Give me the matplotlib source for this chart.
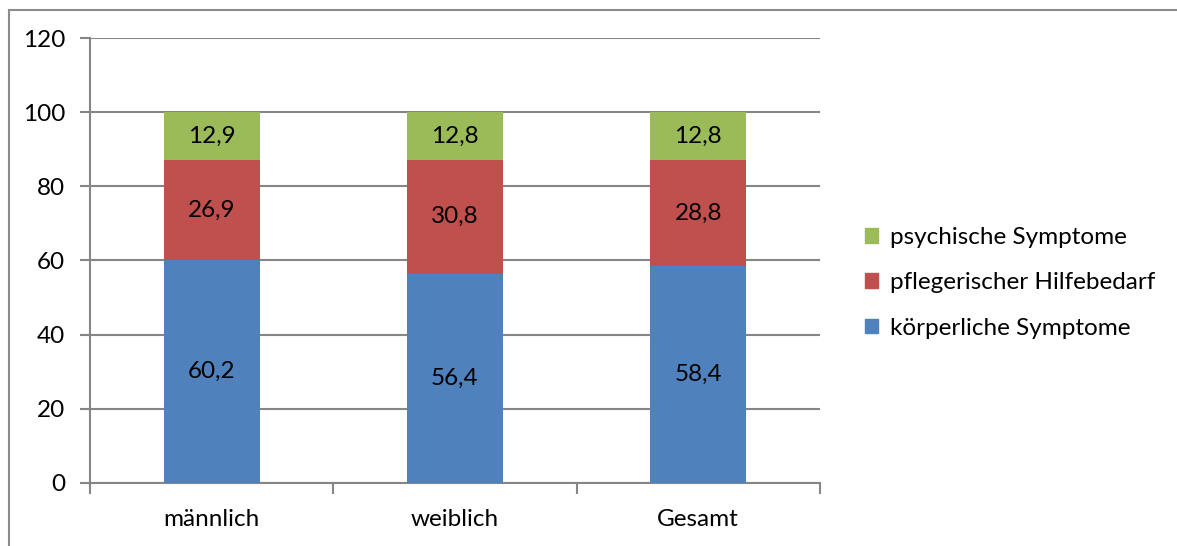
import numpy as np
import matplotlib.pyplot as plt
from matplotlib.patches import Patch
from matplotlib.lines import Line2D

plt.rcParams['font.family'] = ['Lato', 'DejaVu Sans']

groups = ['männlich', 'weiblich', 'Gesamt']
koerperlich = [60.2, 56.4, 58.4]
pflege = [26.9, 30.8, 28.8]
psychisch = [12.9, 12.8, 12.8]
y_ticks = [0, 20, 40, 60, 80, 100, 120]

c_blue = '#4F81BD'
c_red = '#C0504D'
c_green = '#9BBB59'
c_grid = '#868686'
fs = 17.5

fig = plt.figure(figsize=(11.77, 5.46), dpi=100)
ax = fig.add_axes([0.0765, 0.1154, 0.62, 0.815])

x = np.arange(len(groups))
w = 0.395
bottom2 = np.array(koerperlich)
bottom3 = bottom2 + np.array(pflege)
ax.bar(x, koerperlich, w, color=c_blue, zorder=3)
ax.bar(x, pflege, w, bottom=bottom2, color=c_red, zorder=3)
ax.bar(x, psychisch, w, bottom=bottom3, color=c_green, zorder=3)

def fmt(v):
    return f'{v:.1f}'.replace('.', ',')

for i in range(len(groups)):
    ax.text(x[i], koerperlich[i] / 2, fmt(koerperlich[i]), ha='center', va='center', fontsize=fs, zorder=4)
    ax.text(x[i], bottom2[i] + pflege[i] / 2, fmt(pflege[i]), ha='center', va='center', fontsize=fs, zorder=4)
    ax.text(x[i], bottom3[i] + psychisch[i] / 2, fmt(psychisch[i]), ha='center', va='center', fontsize=fs, zorder=4)

ax.set_xlim(-0.5, len(groups) - 0.5)
ax.set_ylim(0, 120)
ax.set_yticks(y_ticks)
ax.set_yticklabels([str(t) for t in y_ticks], fontsize=fs)
ax.yaxis.grid(True, color=c_grid, lw=1.5, zorder=0)
ax.set_xticks(x)
ax.set_xticklabels(groups, fontsize=fs)
ax.set_xticks(np.arange(-0.5, len(groups)), minor=True)
ax.tick_params(axis='x', which='major', length=0, pad=19)
ax.tick_params(axis='x', which='minor', length=8, width=1.5, color=c_grid, direction='out')
ax.tick_params(axis='y', length=7, width=1.5, color=c_grid, pad=11)
for s in ['top', 'right']:
    ax.spines[s].set_visible(False)
for s in ['left', 'bottom']:
    ax.spines[s].set_color(c_grid)
    ax.spines[s].set_linewidth(1.5)

handles = [Patch(color=c_green), Patch(color=c_red), Patch(color=c_blue)]
labels = ['psychische Symptome', 'pflegerischer Hilfebedarf', 'körperliche Symptome']
fig.legend(handles, labels, loc='center left', bbox_to_anchor=(0.716, 0.482), frameon=False,
           fontsize=fs, handlelength=0.55, handleheight=0.55, handletextpad=0.5, labelspacing=1.0)

# chart frame (left and top edges)
fig.add_artist(Line2D([8.5 / 1177, 8.5 / 1177], [0, 1 - 9.5 / 546], transform=fig.transFigure, color='#8c8c8c', lw=1.5))
fig.add_artist(Line2D([8.5 / 1177, 1], [1 - 9.5 / 546, 1 - 9.5 / 546], transform=fig.transFigure, color='#8c8c8c', lw=1.5))

fig.savefig('out.png', dpi=100)
